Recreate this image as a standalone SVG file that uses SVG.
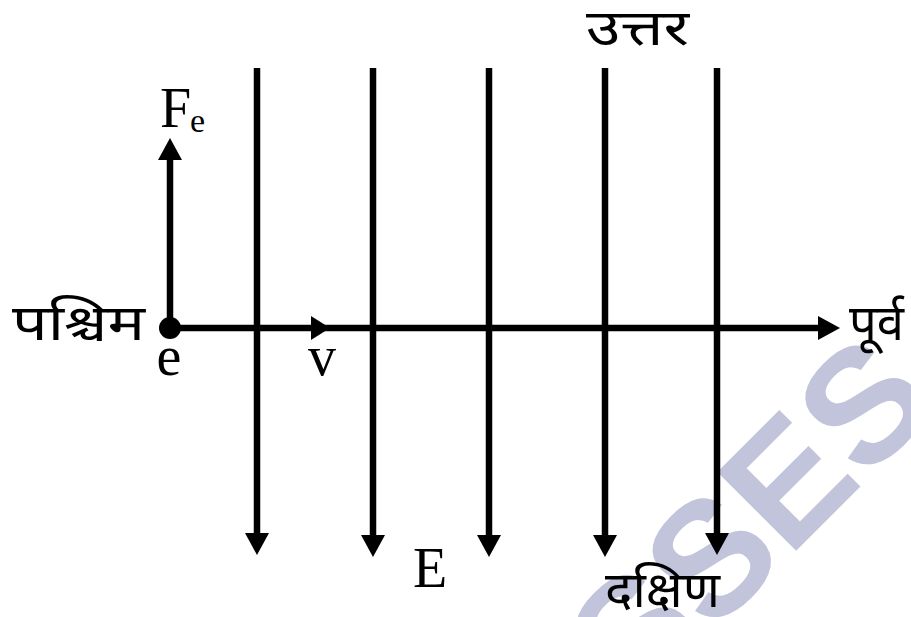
<svg xmlns="http://www.w3.org/2000/svg" width="911" height="617" viewBox="0 0 911 617">
  <style>
    .ln { stroke: #000; stroke-width: 6.5; fill: none; }
    .lat { font-family: "Liberation Serif", "Times New Roman", serif; fill: #000; }
    .dev { font-family: "Noto Sans Devanagari", "Nirmala UI", "Mangal", "Lohit Devanagari", "Noto Sans", sans-serif; fill: #000; font-size: 50px; }
    .wm { font-family: "Liberation Sans", Arial, sans-serif; font-weight: bold; font-size: 162px; fill: #c1c4da; }
  </style>
  <defs>
    <marker id="ah" markerUnits="userSpaceOnUse" markerWidth="22" markerHeight="24" viewBox="0 -12 22 24" refX="0" refY="0" orient="auto">
      <path d="M0,-12 L22,0 L0,12 z" fill="#000"/>
    </marker>
  </defs>
  <rect width="911" height="617" fill="#fff"/>

  <g id="watermark" transform="translate(797,550) rotate(-45)">
    <text class="wm" x="-228" y="0">SSES</text>
  </g>

  <g id="connectors">
    <line class="ln" x1="257" y1="68" x2="257" y2="533" marker-end="url(#ah)"/>
    <line class="ln" x1="373" y1="68" x2="373" y2="535" marker-end="url(#ah)"/>
    <line class="ln" x1="489" y1="68" x2="489" y2="535" marker-end="url(#ah)"/>
    <line class="ln" x1="605" y1="68" x2="605" y2="535" marker-end="url(#ah)"/>
    <line class="ln" x1="717" y1="68" x2="717" y2="533" marker-end="url(#ah)"/>
    <line class="ln" x1="170" y1="328" x2="818" y2="328" marker-end="url(#ah)"/>
    <path d="M311,316 L330,328 L311,340 z" fill="#000"/>
    <line class="ln" x1="170" y1="328" x2="170" y2="160" marker-end="url(#ah)"/>
  </g>

  <g id="electron">
    <circle cx="170" cy="328" r="11" fill="#000"/>
    <text class="lat" x="169" y="375" font-size="56" text-anchor="middle">e</text>
  </g>

  <g id="force-label">
    <text class="lat" x="160" y="127" font-size="56">F</text>
    <text class="lat" x="190" y="132" font-size="34">e</text>
  </g>

  <g id="velocity-label">
    <text class="lat" x="322" y="375" font-size="56" text-anchor="middle">v</text>
  </g>

  <g id="field-label">
    <text class="lat" x="430" y="587" font-size="56" text-anchor="middle">E</text>
  </g>

  <g id="west"><text class="dev" x="12" y="340" textLength="133" lengthAdjust="spacingAndGlyphs">पश्चिम</text></g>
  <g id="north"><text class="dev" x="586" y="45" textLength="103" lengthAdjust="spacingAndGlyphs">उत्तर</text></g>
  <g id="east"><text class="dev" x="849" y="340" textLength="55" lengthAdjust="spacingAndGlyphs">पूर्व</text></g>
  <g id="south"><text class="dev" x="605" y="607" textLength="115" lengthAdjust="spacingAndGlyphs">दक्षिण</text></g>
</svg>
